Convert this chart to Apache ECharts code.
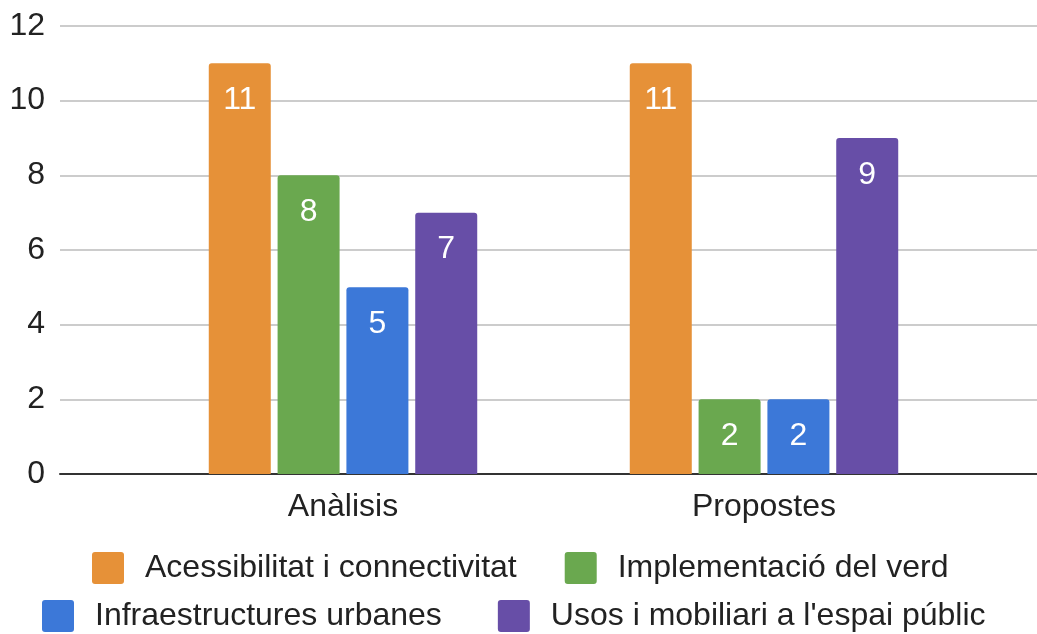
<!DOCTYPE html>
<html>
<head>
<meta charset="utf-8">
<script src="https://cdn.jsdelivr.net/npm/echarts@6/dist/echarts.min.js"></script>
<style>
html,body{margin:0;padding:0;background:#fff;}
#chart{width:1037px;height:634px;}
</style>
</head>
<body>
<div id="chart"></div>
<script>
var categories = ['Anàlisis', 'Propostes'];
var seriesNames = ['Acessibilitat i connectivitat', 'Implementació del verd', 'Infraestructures urbanes', "Usos i mobiliari a l'espai públic"];
var acessibilitat = [11, 11];
var verd = [8, 2];
var infraestructures = [5, 2];
var usos = [7, 9];
var yTicks = [0, 2, 4, 6, 8, 10, 12];
var colors = ['#E69138', '#6AA84F', '#3C78D8', '#674EA7'];

var values = [acessibilitat, verd, infraestructures, usos];
var FONT = '"Liberation Sans", Arial, sans-serif';
var FS = 32;
var ICON = 'path://M3,0 H29 Q32,0 32,3 V29 Q32,32 29,32 H3 Q0,32 0,29 V3 Q0,0 3,0 Z';

var chart = echarts.init(document.getElementById('chart'));
var series = values.map(function (v, i) {
  return {
    name: seriesNames[i],
    type: 'bar',
    xAxisIndex: 1,
    yAxisIndex: 1,
    data: v,
    barWidth: 62,
    barGap: '11%',
    itemStyle: { color: colors[i], borderRadius: [3, 3, 0, 0] },
    label: {
      show: true,
      position: 'insideTop',
      distance: 21,
      color: '#fff',
      fontFamily: FONT,
      fontSize: FS
    }
  };
});

chart.setOption({
  animation: false,
  color: colors,
  grid: [
    { left: 60, right: 0, top: 26, bottom: 160 },
    { left: 132.5, right: 62.5, top: 26, bottom: 160 }
  ],
  xAxis: [
    { gridIndex: 0, type: 'value', min: 0, max: 1,
      axisLine: { show: true, lineStyle: { color: '#333', width: 2 } },
      axisTick: { show: false }, axisLabel: { show: false }, splitLine: { show: false } },
    { gridIndex: 1, type: 'category', data: categories,
      axisLine: { show: false }, axisTick: { show: false },
      axisLabel: { color: '#222', fontFamily: FONT, fontSize: FS, margin: 17 } }
  ],
  yAxis: [
    { gridIndex: 0, type: 'value', min: yTicks[0], max: yTicks[yTicks.length - 1], interval: 2,
      axisLine: { show: false }, axisTick: { show: false },
      axisLabel: { color: '#222', fontFamily: FONT, fontSize: FS, margin: 15 },
      splitLine: { lineStyle: { color: '#cccccc', width: 2 } } },
    { gridIndex: 1, type: 'value', min: yTicks[0], max: yTicks[yTicks.length - 1], interval: 2,
      show: false, splitLine: { show: false } }
  ],
  legend: [
    { data: seriesNames.slice(0, 2), left: 92, top: 552, padding: 0, itemWidth: 32, itemHeight: 32, itemGap: 48,
      icon: ICON, selectedMode: false,
      textStyle: { color: '#222', fontFamily: FONT, fontSize: FS, padding: [0, 0, 0, 16] } },
    { data: seriesNames.slice(2, 4), left: 42, top: 600, padding: 0, itemWidth: 32, itemHeight: 32, itemGap: 56,
      icon: ICON, selectedMode: false,
      textStyle: { color: '#222', fontFamily: FONT, fontSize: FS, padding: [0, 0, 0, 16] } }
  ],
  series: series
});
</script>
</body>
</html>
